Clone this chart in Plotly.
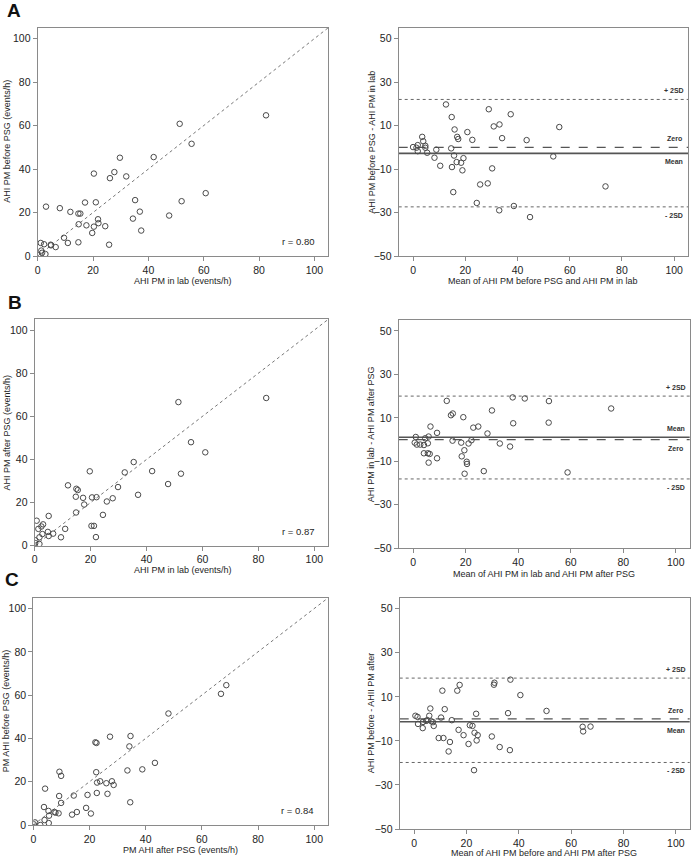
import plotly.graph_objects as go

W, H = 696, 857

# ---------------- DATA ----------------
# Panel A left: AHI PM in lab (x) vs AHI PM before PSG (y)
a_lab = [82.5, 51.3, 55.6, 29.7, 41.9, 20.3, 27.7, 26.1, 32.0, 60.7, 35.2, 52.0, 17.1, 21.0, 3.0, 8.0,
         11.8, 14.7, 15.4, 36.9, 34.4, 47.5, 21.8, 21.95, 14.8, 17.6, 20.3, 24.4, 37.4, 19.7, 9.5, 14.7,
         10.9, 1.1, 2.3, 4.7, 4.8, 6.5, 25.8, 1.3, 1.6, 2.8, 0.2]
a_before = [64.7, 60.8, 51.6, 45.2, 45.5, 37.9, 38.6, 35.8, 36.6, 28.9, 25.7, 25.2, 24.6, 24.7, 22.7, 22.0,
            20.3, 19.5, 19.5, 20.4, 17.2, 18.6, 16.9, 15.1, 14.6, 14.1, 13.5, 13.7, 11.7, 10.6, 8.4, 6.3,
            6.0, 6.0, 5.4, 5.2, 4.9, 4.1, 5.2, 2.5, 1.5, 0.9, 0.3]
a_r = "r = 0.80"

# Panel A right: Bland-Altman
a_ba_mean = [12.6, 29.0, 37.4, 14.8, 15.9, 20.8, 30.9, 33.1, 56.0, 3.5, 16.9, 17.3, 34.1, 22.7, 43.5, 3.9,
             1.8, 0.0, 1.3, 4.7, 4.7, 14.6, 8.9, 1.8, 5.4, 15.7, 53.7, 8.2, 19.3, 16.7, 18.4, 10.4, 14.9,
             30.3, 18.9, 25.7, 28.6, 73.7, 15.4, 24.4, 38.6, 33.0, 44.8]
a_ba_diff = [19.7, 17.5, 15.2, 13.9, 8.2, 7.0, 9.6, 10.5, 9.3, 4.8, 4.8, 3.8, 4.2, 3.4, 3.3, 2.8,
             1.0, 0.1, -0.2, 0.7, -0.2, -0.5, -1.1, -1.8, -2.5, -3.8, -4.2, -4.8, -5.0, -6.8, -7.1, -8.5, -9.1,
             -9.7, -10.6, -17.1, -16.6, -18.0, -20.6, -25.6, -27.0, -29.0, -32.1]
a_lines = {"plus2sd": 22.0, "zero": 0.0, "mean": -2.8, "minus2sd": -27.4}

# Panel B left: AHI PM in lab (x) vs AHI PM after PSG (y)
b_lab = [82.8, 51.4, 55.9, 61.0, 35.4, 42.0, 52.3, 32.2, 19.7, 11.9, 47.7, 29.8, 14.9, 15.4, 36.96, 14.7,
         17.3, 20.5, 22.1, 27.9, 25.8, 17.7, 14.8, 24.4, 5.0, 0.7, 3.0, 2.4, 20.3, 21.2, 10.9, 1.3,
         2.75, 4.7, 6.6, 5.0, 9.4, 1.7, 21.9, 0.2, 0.2, 1.7]
b_after = [68.5, 66.6, 48.0, 43.3, 38.8, 34.6, 33.4, 34.0, 34.5, 28.0, 28.6, 27.2, 26.4, 25.8, 23.6, 22.7,
           22.2, 22.4, 22.5, 22.0, 20.5, 19.1, 15.4, 14.3, 13.8, 11.6, 9.9, 8.9, 9.2, 9.2, 7.8, 7.8,
           5.4, 6.4, 5.6, 4.5, 3.9, 3.9, 4.0, 2.5, 1.2, 0.8]
b_r = "r = 0.87"

# Panel B right: Bland-Altman
b_ba_mean = [75.4, 37.9, 42.5, 12.8, 51.7, 30.0, 15.1, 14.4, 19.1, 38.1, 51.6, 6.6, 24.8, 22.9, 9.1, 28.3,
             1.0, 5.9, 4.6, 22.2, 15.0, 18.3, 21.1, 33.0, 0.6, 1.4, 2.7, 4.1, 5.6, 36.9, 19.5, 4.1, 5.6,
             6.3, 18.5, 9.1, 20.4, 20.5, 5.9, 26.9, 19.6, 58.8]
b_ba_diff = [14.3, 19.4, 18.9, 17.8, 17.7, 13.4, 12.0, 11.2, 10.3, 7.5, 7.8, 6.0, 6.0, 5.5, 3.1, 2.8,
             1.2, 1.4, 0.6, -0.3, -0.5, -1.4, -1.8, -1.8, -1.4, -2.3, -2.3, -2.5, -1.7, -3.2, -4.9, -6.3, -6.3,
             -6.6, -7.7, -8.6, -10.2, -11.2, -10.6, -14.5, -15.7, -15.1]
b_lines = {"plus2sd": 20.0, "zero": 0.0, "mean": 1.1, "minus2sd": -18.1}

# Panel C left: PM AHI after PSG (x) vs PM AHI before PSG (y)
c_after = [68.7, 66.8, 48.1, 27.3, 34.6, 22.1, 22.5, 34.2, 43.3, 33.5, 38.8, 9.3, 22.4, 9.9, 4.2, 23.8,
           27.98, 22.7, 26.0, 28.6, 9.2, 14.4, 19.3, 22.6, 26.4, 9.9, 34.5, 3.8, 18.8, 5.4, 7.5, 7.9,
           9.0, 15.5, 13.8, 20.5, 5.6, 4.0, 5.5, 2.5, 0.6, 0.2]
c_before = [64.6, 60.6, 51.5, 40.8, 41.1, 38.2, 37.9, 36.3, 28.7, 25.2, 25.7, 24.6, 24.4, 22.7, 16.8, 20.2,
            20.2, 19.6, 19.3, 18.5, 13.4, 13.6, 13.9, 14.8, 14.4, 10.2, 10.5, 8.3, 7.9, 6.5, 6.0, 5.7,
            5.4, 6.0, 4.8, 5.3, 4.3, 2.3, 0.9, 0.0, 1.2, 0.3]
c_r = "r = 0.84"

# Panel C right: Bland-Altman
c_ba_mean = [36.8, 17.4, 30.7, 30.5, 10.8, 16.5, 40.6, 6.2, 11.7, 50.6, 23.7, 35.9, 5.8, 0.5, 1.3, 10.3,
             5.1, 4.6, 14.4, 6.6, 3.4, 7.2, 1.5, 21.3, 22.3, 7.5, 3.3, 64.4, 67.4, 17.0, 64.6, 23.1, 24.3,
             18.9, 29.7, 9.4, 11.2, 23.9, 13.7, 20.8, 32.7, 36.6, 13.2, 22.9]
c_ba_diff = [17.8, 15.4, 16.4, 15.5, 12.8, 12.8, 10.8, 4.7, 4.4, 3.6, 2.3, 2.6, 1.4, 1.4, 0.9, 0.6,
             -0.6, -0.9, -0.6, -1.1, -1.4, -1.5, -2.3, -2.9, -3.2, -3.2, -4.2, -3.6, -3.5, -5.0, -5.7, -6.3, -7.4,
             -7.4, -8.0, -8.7, -8.7, -9.8, -10.5, -11.4, -12.8, -14.2, -14.8, -23.3]
c_lines = {"plus2sd": 18.5, "zero": 0.0, "mean": -1.3, "minus2sd": -19.8}

line_labels = {"plus2sd": "+ 2SD", "zero": "Zero", "mean": "Mean", "minus2sd": "- 2SD"}

scatter_ticks = [0, 20, 40, 60, 80, 100]
ba_yticks = [-50, -30, -10, 10, 30, 50]
ba_xticks = [0, 20, 40, 60, 80, 100]
scatter_range = [0, 105]
ba_xrange = [-5.5, 105.3]
ba_yrange = [-50, 55]

# ---------------- LAYOUT HELPERS ----------------
def fx(px):
    return px / W

def fy(py):
    return 1 - py / H

FONT = "Arial, Liberation Sans, Helvetica, sans-serif"
FRAME = "#8a8a8a"
MARK = "#4a4a4a"
TXT = "#1e1e1e"

panels = [
    dict(kind="sc", x=a_lab, y=a_before, box=[37.7, 328.3, 27.7, 256.0],
         xt="AHI PM in lab (events/h)", yt="AHI PM before PSG (events/h)", extra=a_r,
         xt_y=280.5, xt_x=183, yt_x=7),
    dict(kind="ba", x=a_ba_mean, y=a_ba_diff, box=[398.7, 688.0, 27.7, 256.0],
         xt="Mean of AHI PM before PSG and AHI PM in lab", yt="AHI PM before PSG - AHI PM in lab",
         extra=a_lines, pos={"plus2sd": 1, "zero": 1, "mean": -1, "minus2sd": -1},
         xt_y=281.5, xt_x=543, yt_x=372),
    dict(kind="sc", x=b_lab, y=b_after, box=[34.7, 328.3, 319.3, 545.7],
         xt="AHI PM in lab (events/h)", yt="AHI PM after PSG (events/h)", extra=b_r,
         xt_y=570, xt_x=183, yt_x=6),
    dict(kind="ba", x=b_ba_mean, y=b_ba_diff, box=[398.7, 689.7, 320.0, 548.3],
         xt="Mean of AHI PM in lab and AHI PM after PSG", yt="AHI PM in lab - AHI PM after PSG",
         extra=b_lines, pos={"plus2sd": 1, "zero": -1, "mean": 1, "minus2sd": -1},
         xt_y=574, xt_x=544, yt_x=371),
    dict(kind="sc", x=c_after, y=c_before, box=[33.3, 328.3, 597.7, 825.0],
         xt="PM AHI after PSG (events/h)", yt="PM AHI before PSG (events/h)", extra=c_r,
         xt_y=850, xt_x=181, yt_x=6),
    dict(kind="ba", x=c_ba_mean, y=c_ba_diff, box=[399.7, 689.7, 597.7, 829.0],
         xt="Mean of AHI PM before and AHI PM after PSG", yt="AHI PM before - AHII PM after",
         extra=c_lines, pos={"plus2sd": 1, "zero": 1, "mean": -1, "minus2sd": -1},
         xt_y=852.5, xt_x=544, yt_x=371),
]

fig = go.Figure()
layout = dict(width=W, height=H, margin=dict(l=0, r=0, t=0, b=0),
              paper_bgcolor="white", plot_bgcolor="white", showlegend=False,
              font=dict(family=FONT, color=TXT))
shapes = []
annotations = []

line_styles = {"plus2sd": dict(dash="dot", width=1, color="#666666"),
               "minus2sd": dict(dash="dot", width=1, color="#666666"),
               "zero": dict(dash="dash", width=1.2, color="#555555"),
               "mean": dict(dash="solid", width=1.6, color="#555555")}

for i, p in enumerate(panels, start=1):
    xa = "xaxis" if i == 1 else f"xaxis{i}"
    ya = "yaxis" if i == 1 else f"yaxis{i}"
    xr = "x" if i == 1 else f"x{i}"
    yr = "y" if i == 1 else f"y{i}"
    l, r, t, b = p["box"]
    if p["kind"] == "sc":
        xrange_, yrange_, xt_, yt_ = scatter_range, scatter_range, scatter_ticks, scatter_ticks
    else:
        xrange_, yrange_, xt_, yt_ = ba_xrange, ba_yrange, ba_xticks, ba_yticks
    common = dict(showline=True, mirror=True, linecolor=FRAME, linewidth=1.2, showgrid=False,
                  zeroline=False, ticks="outside", ticklen=4, tickwidth=1, tickcolor=FRAME,
                  tickfont=dict(size=10.5, color=TXT, family=FONT), automargin=False,
                  fixedrange=True)
    layout[xa] = dict(common, domain=[fx(l), fx(r)], range=xrange_, tickvals=xt_, anchor=yr)
    layout[ya] = dict(common, domain=[fy(b), fy(t)], range=yrange_, tickvals=yt_, anchor=xr)

    if p["kind"] == "sc":
        fig.add_trace(go.Scatter(x=scatter_range, y=scatter_range, mode="lines", xaxis=xr, yaxis=yr,
                                 line=dict(color="#777777", width=1, dash="dot"), hoverinfo="skip"))
        annotations.append(dict(x=94, y=6.7, xref=xr, yref=yr, text=p["extra"], showarrow=False,
                                font=dict(size=9.5, color=TXT, family=FONT)))
    else:
        for key, val in p["extra"].items():
            shapes.append(dict(type="line", xref=f"{xr} domain", yref=yr, x0=0, x1=1, y0=val, y1=val,
                               line=line_styles[key], layer="below"))
            sgn = p["pos"][key]
            annotations.append(dict(x=100, y=val, xref=xr, yref=yr, text=f"<b>{line_labels[key]}</b>",
                                    showarrow=False, yshift=8.5 * sgn,
                                    font=dict(size=7, color="#333333", family=FONT)))

    fig.add_trace(go.Scatter(x=p["x"], y=p["y"], mode="markers", xaxis=xr, yaxis=yr,
                             marker=dict(symbol="circle-open", size=5.5, color=MARK,
                                         line=dict(width=1, color=MARK))))

    annotations.append(dict(x=fx(p["xt_x"]), y=fy(p["xt_y"]), xref="paper", yref="paper", text=p["xt"],
                            showarrow=False, xanchor="center", yanchor="middle",
                            font=dict(size=9, color=TXT, family=FONT)))
    annotations.append(dict(x=fx(p["yt_x"]), y=fy((t + b) / 2), xref="paper", yref="paper", text=p["yt"],
                            showarrow=False, textangle=-90, xanchor="center", yanchor="middle",
                            font=dict(size=9, color=TXT, family=FONT)))

for letter, cx, cy in [("A", 14, 10), ("B", 15, 302), ("C", 12, 579)]:
    annotations.append(dict(x=fx(cx), y=fy(cy), xref="paper", yref="paper", text=f"<b>{letter}</b>",
                            showarrow=False, xanchor="center", yanchor="middle",
                            font=dict(size=19, color="#111111", family=FONT)))

layout["shapes"] = shapes
layout["annotations"] = annotations
fig.update_layout(**layout)
fig.write_html("out.html", config={"displayModeBar": False})

# remove the default page margin so the figure sits at the window's top-left corner
with open("out.html", "r", encoding="utf-8") as fh:
    html = fh.read()
html = html.replace("<head>", "<head><style>html,body{margin:0;padding:0;overflow:hidden;}</style>", 1)
with open("out.html", "w", encoding="utf-8") as fh:
    fh.write(html)
